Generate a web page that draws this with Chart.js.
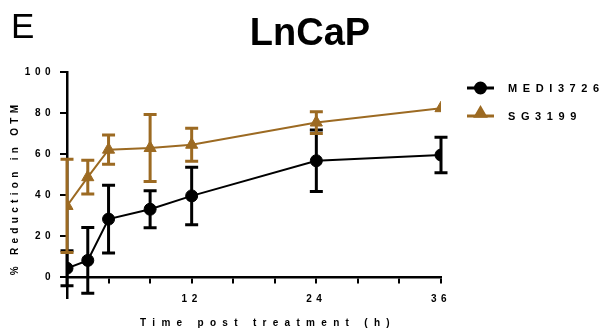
<!DOCTYPE html>
<html>
<head>
<meta charset="utf-8">
<script src="https://cdn.jsdelivr.net/npm/chart.js@4"></script>
<style>
  body { margin: 0; background: #fff; }
  canvas { display: block; }
</style>
</head>
<body>
<canvas id="chart" width="602" height="333"></canvas>
<script>
// Data
const hours = [0, 2, 4, 8, 12, 24, 36];
const medi = [4.5, 8.3, 28.4, 33.2, 39.7, 56.8, 59.6];
const mediErr = [8.5, 16, 16.5, 9, 14, 15, 8.6];
const sg = [34.8, 48.8, 62.2, 63, 64.6, 75.4, 82.4];
const sgErr = [22.7, 8.2, 7.1, 16.3, 8, 5.3, 0];
const xTicks = [0, 4, 8, 12, 16, 20, 24, 28, 32, 36];
const xLabels = [12, 24, 36];
const yTicks = [0, 20, 40, 60, 80, 100];
const xTitle = "Time post treatment (h)";
const yTitle = "% Reduction in OTM";

const black = "#000000";
const gold = "#9c6a22";
const font = "'Liberation Sans', Arial, sans-serif";

function pts(ys) {
    return hours.map(function (h, i) { return {x: h, y: ys[i]}; });
}

// spaced out lettering like the original export
const spacing = {
    id: "spacing",
    beforeUpdate: function (chart) { chart.ctx.letterSpacing = "4.5px"; },
    beforeDraw: function (chart) { chart.ctx.letterSpacing = "4.5px"; }
};

// error bars, under the markers
const errorBars = {
    id: "errorBars",
    beforeDatasetsDraw: function (chart) {
        const ctx = chart.ctx;
        const xs = chart.scales.x, ys = chart.scales.y;
        const errs = [mediErr, sgErr];
        ctx.save();
        chart.data.datasets.forEach(function (ds, d) {
            ctx.strokeStyle = ds.borderColor;
            ctx.lineWidth = 3;
            ds.data.forEach(function (p, i) {
                const e = errs[d][i];
                if (!e) return;
                const px = xs.getPixelForValue(p.x);
                const top = ys.getPixelForValue(p.y + e);
                const bot = ys.getPixelForValue(p.y - e);
                ctx.beginPath();
                ctx.moveTo(px, top); ctx.lineTo(px, bot);
                ctx.moveTo(px - 6.5, top); ctx.lineTo(px + 6.5, top);
                ctx.moveTo(px - 6.5, bot); ctx.lineTo(px + 6.5, bot);
                ctx.stroke();
            });
        });
        ctx.restore();
    }
};

// title, panel letter, axis titles and the legend on the right
const extras = {
    id: "extras",
    afterDraw: function (chart) {
        const ctx = chart.ctx;
        const area = chart.chartArea;
        ctx.save();
        ctx.letterSpacing = "0px";
        ctx.fillStyle = black;
        ctx.textBaseline = "alphabetic";
        ctx.textAlign = "left";
        ctx.font = "35px " + font;
        ctx.fillText("E", 11, 38);
        ctx.textAlign = "center";
        ctx.font = "bold 38px " + font;
        ctx.fillText("LnCaP", 310, 45);

        // axis titles
        ctx.font = "bold 10px " + font;
        ctx.textBaseline = "middle";
        ctx.letterSpacing = "6.3px";
        ctx.fillText(xTitle, 268, 323);
        ctx.save();
        ctx.translate(15, (area.top + area.bottom) / 2 + 3);
        ctx.rotate(-Math.PI / 2);
        ctx.letterSpacing = "4.3px";
        ctx.fillText(yTitle, 0, 0);
        ctx.restore();

        const rows = [88, 116];
        chart.data.datasets.forEach(function (ds, i) {
            const y = rows[i];
            ctx.letterSpacing = "0px";
            ctx.strokeStyle = ds.borderColor;
            ctx.lineWidth = 3;
            ctx.beginPath();
            ctx.moveTo(467, y); ctx.lineTo(494, y);
            ctx.stroke();
            ctx.fillStyle = ds.borderColor;
            Chart.helpers.drawPoint(ctx, {
                pointStyle: ds.pointStyle, radius: i == 1 ? 5.5 : 5,
                rotation: 0, borderWidth: 1
            }, 480.5, i == 1 ? y - 2.5 : y);
            ctx.letterSpacing = "5.6px";
            ctx.fillStyle = black;
            ctx.textAlign = "left";
            ctx.textBaseline = "middle";
            ctx.font = "bold 11px " + font;
            ctx.fillText(ds.label, 508, y + 1);
        });
        ctx.restore();
    }
};

const ctx = document.getElementById("chart");

const chart = new Chart(ctx, {
    type: "line",
    data: {
        datasets: [{
            label: "MEDI3726",
            data: pts(medi),
            borderColor: black,
            backgroundColor: black,
            borderWidth: 2,
            pointStyle: "circle",
            pointRadius: 6,
            pointBorderWidth: 1,
            tension: 0,
            order: 1
        }, {
            label: "SG3199",
            data: pts(sg),
            borderColor: gold,
            backgroundColor: gold,
            borderWidth: 2,
            pointStyle: "triangle",
            pointRadius: 7,
            pointBorderWidth: 1,
            tension: 0,
            order: 0
        }]
    },
    options: {
        responsive: false,
        animation: false,
        layout: { padding: { left: 0, top: 72, right: 161, bottom: 35 } },
        plugins: {
            legend: { display: false },
            tooltip: { enabled: false },
            title: { display: false }
        },
        scales: {
            x: {
                type: "linear",
                position: { y: 0 },
                min: 0,
                max: 36,
                afterBuildTicks: function (s) {
                    s.ticks = xTicks.map(function (v) { return {value: v}; });
                },
                ticks: {
                    autoSkip: false,
                    maxRotation: 0,
                    padding: 11,
                    color: black,
                    font: { family: font, size: 10, weight: "bold" },
                    callback: function (v) { return xLabels.indexOf(v) >= 0 ? String(v) : ""; }
                },
                grid: { drawOnChartArea: false, drawTicks: true, tickLength: 5, color: black, lineWidth: 2 },
                border: { display: true, color: black, width: 2.5 },
                title: { display: false }
            },
            y: {
                position: "left",
                min: -10,
                max: 100,
                afterBuildTicks: function (s) {
                    s.ticks = yTicks.map(function (v) { return {value: v}; });
                },
                afterFit: function (s) { s.width = 67; },
                ticks: {
                    padding: 5,
                    color: black,
                    font: { family: font, size: 10, weight: "bold" }
                },
                grid: { drawOnChartArea: false, drawTicks: true, tickLength: 7, color: black, lineWidth: 2 },
                border: { display: true, color: black, width: 2.5 },
                title: { display: false }
            }
        }
    },
    plugins: [spacing, errorBars, extras]
});
</script>
</body>
</html>
